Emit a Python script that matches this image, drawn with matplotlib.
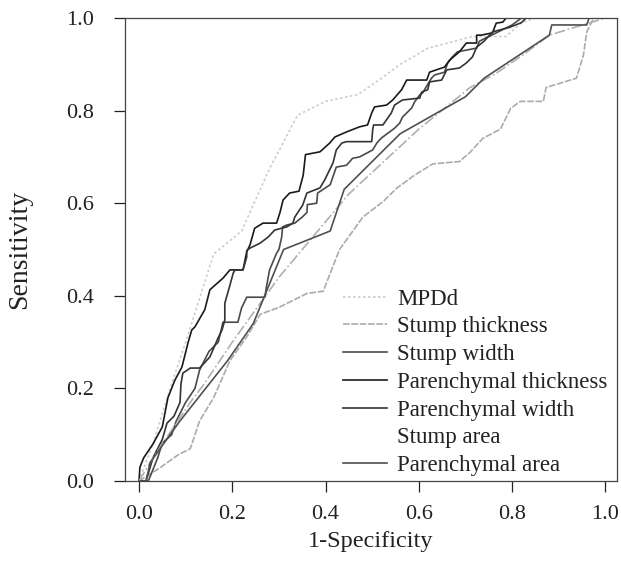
import matplotlib
matplotlib.use("Agg")
import matplotlib.pyplot as plt

plt.rcParams['font.family'] = ['Liberation Serif', 'DejaVu Serif']

# ROC curves, as (1-specificity, sensitivity) points
mpdd = [(0, 0), (0.03, 0.08), (0.07, 0.21), (0.10, 0.30), (0.16, 0.49), (0.22, 0.54),
        (0.28, 0.675), (0.34, 0.79), (0.40, 0.82), (0.47, 0.835), (0.52, 0.87),
        (0.56, 0.90), (0.62, 0.935), (0.715, 0.96), (0.787, 0.96), (0.82, 0.99),
        (0.85, 1.0), (1, 1)]
stump_thick = [(0, 0), (0.047, 0.03), (0.083, 0.056), (0.11, 0.07), (0.13, 0.13),
               (0.16, 0.18), (0.195, 0.26), (0.23, 0.31), (0.26, 0.36), (0.30, 0.375),
               (0.36, 0.405), (0.395, 0.41), (0.43, 0.50), (0.48, 0.57), (0.525, 0.605),
               (0.552, 0.632), (0.59, 0.66), (0.63, 0.685), (0.687, 0.69), (0.71, 0.71),
               (0.737, 0.74), (0.775, 0.76), (0.797, 0.805), (0.818, 0.82), (0.867, 0.82),
               (0.873, 0.85), (0.938, 0.87), (0.953, 0.92), (0.96, 0.97), (0.97, 0.99),
               (0.975, 1.0), (1, 1)]
stump_width = [(0, 0), (0.02, 0.0), (0.04, 0.05), (0.05, 0.082), (0.07, 0.10), (0.08, 0.13),
               (0.10, 0.17), (0.12, 0.20), (0.13, 0.24), (0.15, 0.28), (0.17, 0.30),
               (0.18, 0.343), (0.212, 0.343), (0.22, 0.374), (0.231, 0.397), (0.27, 0.397),
               (0.273, 0.418), (0.28, 0.456), (0.295, 0.492), (0.30, 0.50), (0.306, 0.527),
               (0.308, 0.549), (0.317, 0.553), (0.334, 0.557), (0.35, 0.57), (0.36, 0.58),
               (0.361, 0.597), (0.381, 0.60), (0.383, 0.622), (0.41, 0.64), (0.423, 0.678),
               (0.445, 0.682), (0.458, 0.697), (0.473, 0.70), (0.501, 0.715), (0.51, 0.73),
               (0.52, 0.741), (0.548, 0.762), (0.559, 0.773), (0.565, 0.786), (0.585, 0.806),
               (0.591, 0.819), (0.602, 0.834), (0.608, 0.838), (0.627, 0.87), (0.634, 0.877),
               (0.655, 0.883), (0.662, 0.903), (0.672, 0.916), (0.683, 0.927), (0.724, 0.935),
               (0.73, 0.95), (0.75, 0.96), (0.78, 0.975), (0.80, 0.985), (0.82, 1.0), (1, 1)]
par_thick = [(0, 0), (0.002, 0.03), (0.01, 0.05), (0.03, 0.08), (0.05, 0.117), (0.062, 0.18),
             (0.077, 0.218), (0.092, 0.246), (0.105, 0.298), (0.113, 0.326), (0.12, 0.333),
             (0.141, 0.37), (0.152, 0.413), (0.163, 0.423), (0.18, 0.438), (0.195, 0.456),
             (0.223, 0.456), (0.231, 0.495), (0.238, 0.51), (0.248, 0.546), (0.266, 0.557),
             (0.295, 0.557), (0.302, 0.579), (0.309, 0.607), (0.323, 0.622), (0.343, 0.626),
             (0.352, 0.66), (0.357, 0.705), (0.388, 0.711), (0.409, 0.73), (0.42, 0.743),
             (0.445, 0.754), (0.473, 0.765), (0.49, 0.769), (0.499, 0.795), (0.505, 0.808),
             (0.531, 0.812), (0.544, 0.823), (0.563, 0.845), (0.574, 0.866), (0.617, 0.866),
             (0.623, 0.883), (0.655, 0.894), (0.666, 0.909), (0.687, 0.927), (0.702, 0.946),
             (0.724, 0.946), (0.724, 0.963), (0.734, 0.963), (0.758, 0.968), (0.766, 0.989),
             (0.78, 0.991), (0.787, 1.0), (1, 1)]
par_width = [(0, 0), (0.015, 0.0), (0.03, 0.05), (0.05, 0.09), (0.06, 0.125), (0.075, 0.14),
             (0.088, 0.17), (0.09, 0.21), (0.094, 0.233), (0.11, 0.244), (0.13, 0.244),
             (0.152, 0.268), (0.17, 0.31), (0.178, 0.326), (0.184, 0.348), (0.184, 0.384),
             (0.195, 0.423), (0.202, 0.449), (0.206, 0.456), (0.223, 0.456), (0.231, 0.484),
             (0.231, 0.498), (0.238, 0.503), (0.26, 0.514), (0.277, 0.527), (0.291, 0.542),
             (0.317, 0.549), (0.33, 0.557), (0.334, 0.57), (0.351, 0.596), (0.36, 0.622),
             (0.388, 0.633), (0.398, 0.65), (0.416, 0.687), (0.423, 0.715), (0.435, 0.73),
             (0.445, 0.733), (0.499, 0.733), (0.501, 0.758), (0.503, 0.769), (0.523, 0.769),
             (0.541, 0.795), (0.548, 0.812), (0.565, 0.823), (0.602, 0.827), (0.606, 0.84),
             (0.619, 0.845), (0.623, 0.862), (0.649, 0.866), (0.66, 0.888), (0.687, 0.892),
             (0.702, 0.903), (0.715, 0.916), (0.724, 0.937), (0.74, 0.95), (0.758, 0.97),
             (0.795, 0.98), (0.82, 0.99), (0.83, 1.0), (1, 1)]
stump_area = [(0, 0), (0.03, 0.05), (0.11, 0.17), (0.14, 0.21), (0.20, 0.30), (0.30, 0.44),
              (0.45, 0.62), (0.60, 0.76), (0.71, 0.85), (0.765, 0.88), (0.83, 0.925),
              (0.88, 0.963), (1, 1)]
par_area = [(0, 0), (0.015, 0.0), (0.024, 0.04), (0.088, 0.13), (0.19, 0.26), (0.245, 0.34),
            (0.31, 0.50), (0.41, 0.54), (0.44, 0.63), (0.56, 0.75), (0.70, 0.83),
            (0.74, 0.87), (0.88, 0.963), (0.885, 0.985), (0.96, 0.985), (0.965, 1.0), (1, 1)]

labels = ['MPDd', 'Stump thickness', 'Stump width', 'Parenchymal thickness',
          'Parenchymal width', 'Stump area', 'Parenchymal area']
curves = [mpdd, stump_thick, stump_width, par_thick, par_width, stump_area, par_area]
colors = ['#cccccc', '#ababab', '#4a4a4a', '#1a1a1a', '#333333', '#b0b0b0', '#505050']
styles = [(0, (1.5, 1.5)), (0, (4, 1)), '-', '-', '-', '-.', '-']

fig = plt.figure(figsize=(6.21, 5.63), dpi=100)
ax = fig.add_axes([0.2013, 0.1456, 0.7923, 0.8224])

for pts, lab, c, ls in zip(curves, labels, colors, styles):
    xs = [p[0] for p in pts]
    ys = [p[1] for p in pts]
    ax.plot(xs, ys, color=c, linestyle=ls, linewidth=1.2, label=lab)

ax.set_xlim(-0.03, 1.025)
ax.set_ylim(0, 1)
ax.set_xticks([0, 0.2, 0.4, 0.6, 0.8, 1.0])
ax.set_yticks([0, 0.2, 0.4, 0.6, 0.8, 1.0])
ax.set_xticklabels(['0.0', '0.2', '0.4', '0.6', '0.8', '1.0'])
ax.set_yticklabels(['0.0', '0.2', '0.4', '0.6', '0.8', '1.0'])
ax.tick_params(axis='x', direction='out', length=8, width=0.9, pad=9, labelsize=16, colors='#222222')
ax.tick_params(axis='y', direction='out', length=8, width=0.9, pad=14, labelsize=16, colors='#222222')
for s in ax.spines.values():
    s.set_linewidth(0.9)
    s.set_color('#444444')

ax.set_xlabel('1-Specificity', fontsize=17.5, color='#222222', labelpad=5)
ax.set_ylabel('Sensitivity', fontsize=20, color='#222222', labelpad=25)

leg = ax.legend(loc='lower left', bbox_to_anchor=(0.443, 0.011), frameon=False,
                fontsize=16.5, handlelength=1.9, handletextpad=0.45,
                labelspacing=0.29, borderpad=0, borderaxespad=0)
for t in leg.get_texts():
    t.set_color('#222222')
leg.legend_handles[5].set_alpha(0)

fig.savefig('out.png', dpi=100)
